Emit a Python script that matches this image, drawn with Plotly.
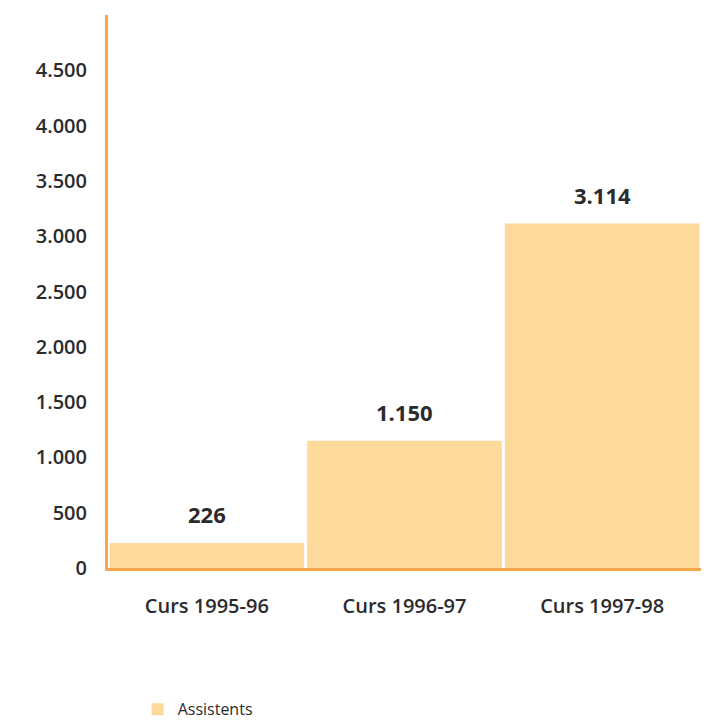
import plotly.graph_objects as go

# Data
categories = ["Curs 1995-96", "Curs 1996-97", "Curs 1997-98"]
assistents = [226, 1150, 3114]
value_labels = ["226", "1.150", "3.114"]
series_name = "Assistents"

BAR_COLOR = "#FDDA9C"
AXIS_COLOR = "#F9A64A"
TEXT_COLOR = "#2b2b2b"
FONT = "Open Sans"

fig = go.Figure()

fig.add_trace(
    go.Bar(
        x=categories,
        y=assistents,
        name=series_name,
        marker=dict(color=BAR_COLOR, line=dict(width=0)),
        showlegend=True,
    )
)

# Value labels above bars
for cat, val, lab in zip(categories, assistents, value_labels):
    fig.add_annotation(
        x=cat, y=val, text=lab, showarrow=False,
        yanchor="bottom", yshift=12,
        font=dict(family=FONT, size=22, color=TEXT_COLOR, weight=700),
    )

# page body has an 8px margin, so the figure is a bit smaller than the window
fig.update_layout(
    width=708,
    height=717,
    margin=dict(l=100, r=15, t=7, b=157, autoexpand=False),
    plot_bgcolor="white",
    paper_bgcolor="white",
    bargap=0.015,
    separators=",.",
    font=dict(family=FONT, color=TEXT_COLOR),
    legend=dict(
        orientation="h",
        x=0.05, xanchor="left",
        yref="container",
        y=0.022, yanchor="middle",
        font=dict(family=FONT, size=16, color=TEXT_COLOR),
    ),
)

fig.update_xaxes(
    showline=True, linecolor=AXIS_COLOR, linewidth=3,
    showgrid=False, ticks="", automargin=False,
    tickfont=dict(family=FONT, size=20, color=TEXT_COLOR, weight=600),
    ticklabelstandoff=18,
)
fig.update_yaxes(
    range=[0, 5000],
    tickvals=[0, 500, 1000, 1500, 2000, 2500, 3000, 3500, 4000, 4500],
    tickformat=",d",
    showline=True, linecolor=AXIS_COLOR, linewidth=3,
    showgrid=False, zeroline=False, ticks="", automargin=False,
    tickfont=dict(family=FONT, size=20, color=TEXT_COLOR, weight=600),
    ticklabelstandoff=14,
)

fig.write_html("out.html")
